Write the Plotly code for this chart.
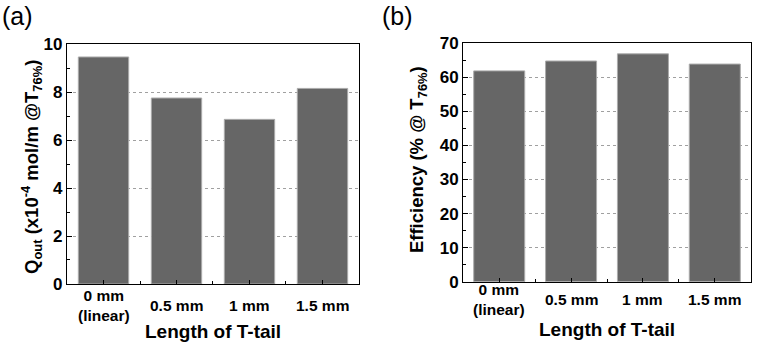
import plotly.graph_objects as go

categories = ["0 mm<br>(linear)", "0.5 mm", "1 mm", "1.5 mm"]
q_out = [9.46, 7.75, 6.86, 8.15]
efficiency = [61.9, 64.8, 66.9, 63.9]
q_ticks = [0, 2, 4, 6, 8, 10]
eff_ticks = [0, 10, 20, 30, 40, 50, 60, 70]

FONT = "Liberation Sans, Arial, sans-serif"
BAR = "#666666"
EDGE = "#ababab"
xpos = list(range(len(categories)))

fig = go.Figure()
fig.add_trace(go.Bar(x=xpos, y=q_out, width=0.69, marker=dict(color=BAR, line=dict(color=EDGE, width=1)),
                     xaxis="x", yaxis="y", showlegend=False))
fig.add_trace(go.Bar(x=xpos, y=efficiency, width=0.71, marker=dict(color=BAR, line=dict(color=EDGE, width=1)),
                     xaxis="x2", yaxis="y2", showlegend=False))

def xax(domain, anchor):
    return dict(domain=domain, anchor=anchor, range=[-0.5, 3.5], showgrid=False, zeroline=False,
                automargin=False,
                showline=True, linecolor="black", linewidth=1.3, mirror=True,
                tickvals=xpos, ticks="inside", ticklen=4, tickwidth=1, tickcolor="black",
                showticklabels=False,
                minor=dict(tickvals=[0.5, 1.5, 2.5], ticks="inside", ticklen=3, tickwidth=1, tickcolor="black"))

def yax(domain, anchor, rng, tv, minor_dtick):
    return dict(domain=domain, anchor=anchor, range=rng, zeroline=False, automargin=False,
                showline=True, linecolor="black", linewidth=1.3, mirror=True,
                tickvals=tv, ticks="inside", ticklen=5, tickwidth=1, tickcolor="black",
                tickfont=dict(family=FONT, size=17, color="black", weight="bold"),
                showgrid=True, gridcolor="#a0a0a0", griddash="dot", gridwidth=1,
                minor=dict(dtick=minor_dtick, tick0=0, ticks="inside", ticklen=3, tickwidth=1,
                           tickcolor="black", showgrid=False))

fig.update_layout(
    width=758, height=342, margin=dict(l=0, r=0, t=0, b=0, autoexpand=False),
    paper_bgcolor="white", plot_bgcolor="white",
    xaxis=xax([0.0884, 0.4736], "y"),
    yaxis=yax([0.1696, 0.8713], "x", [0, 10], q_ticks, 1),
    xaxis2=xax([0.6112, 0.9904], "y2"),
    yaxis2=yax([0.1763, 0.8734], "x2", [0, 70], eff_ticks, 5),
)

ann = []
for i, c in enumerate(categories):
    ann.append(dict(x=i, y=0.107, xref="x", yref="paper", text=c, showarrow=False,
                    xanchor="center", yanchor="middle",
                    font=dict(family=FONT, size=15.5, color="black", weight="bold")))
    ann.append(dict(x=i, y=0.125, xref="x2", yref="paper", text=c, showarrow=False,
                    xanchor="center", yanchor="middle",
                    font=dict(family=FONT, size=15.5, color="black", weight="bold")))
for xc, yc in [(0.281, 0.03), (0.801, 0.038)]:
    ann.append(dict(x=xc, y=yc, xref="paper", yref="paper", text="Length of T-tail", showarrow=False,
                    xanchor="center", yanchor="middle",
                    font=dict(family=FONT, size=19, color="black", weight="bold")))
ytitles = [(0.0422, 0.5117, "Q<sub>out</sub> (x10<sup>-4</sup> mol/m @T<sub>76%</sub>)"),
           (0.5515, 0.532, "Efficiency (% @ T<sub>76%</sub>)")]
for xc, yc, t in ytitles:
    ann.append(dict(x=xc, y=yc, xref="paper", yref="paper", text=t, showarrow=False, textangle=-90,
                    xanchor="center", yanchor="middle",
                    font=dict(family=FONT, size=18.5, color="black", weight="bold")))
for xc, t in [(0.0, "(a)"), (0.5013, "(b)")]:
    ann.append(dict(x=xc, y=1.0, xref="paper", yref="paper", text=t, showarrow=False,
                    xanchor="left", yanchor="top",
                    font=dict(family=FONT, size=25, color="black")))
fig.update_layout(annotations=ann)

fig.write_html("out.html", config={"displayModeBar": False},
               post_script="document.body.style.margin='0';document.body.style.overflow='hidden';")
